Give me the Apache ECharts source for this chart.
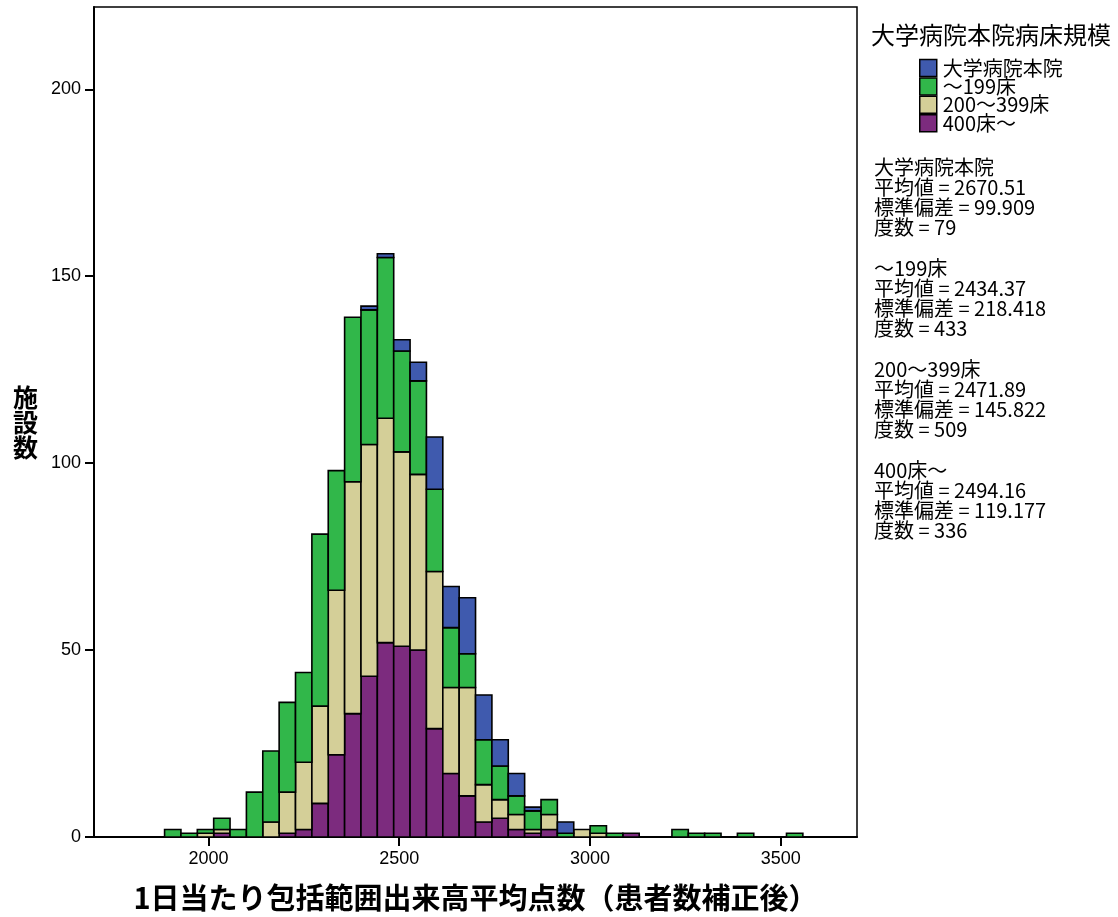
<!DOCTYPE html>
<html>
<head>
<meta charset="utf-8">
<script src="https://cdn.jsdelivr.net/npm/echarts@6/dist/echarts.min.js"></script>
<style>
  html, body { margin: 0; padding: 0; background: #fff; }
  #chart { width: 1118px; height: 917px; }
</style>
</head>
<body>
<div id="chart"></div>
<script>
// histogram bins (SPSS auto bins)
var binStart = 1885;
var binWidth = 42.9;

// counts per bin, stacked bottom -> top: 400床〜, 200〜399床, 〜199床, 大学病院本院
var bed400 = [0,0,0,1,0,0,0,1,2,9,22,33,43,52,51,50,29,17,11,4,5,2,1,2,0,0,0,0,1,0,0,0,0,0,0,0,0,0,0];
var bed200 = [0,0,1,1,0,0,4,11,18,26,44,62,62,60,52,47,42,23,29,10,5,4,1,4,0,2,1,0,0,0,0,0,0,0,0,0,0,0,0];
var bed199 = [2,1,1,3,2,12,19,24,24,46,32,44,36,43,27,25,22,16,9,12,9,5,5,4,1,0,2,1,0,0,0,2,1,1,0,1,0,0,1];
var univ   = [0,0,0,0,0,0,0,0,0,0,0,0,1,1,3,5,14,11,15,12,7,6,1,0,3,0,0,0,0,0,0,0,0,0,0,0,0,0,0];

var seriesNames = ['400床〜', '200〜399床', '〜199床', '大学病院本院'];
var seriesColors = ['#7c2b7e', '#d4cf98', '#31b74a', '#3f5aae'];
var legendOrder = ['大学病院本院', '〜199床', '200〜399床', '400床〜'];

var xTicks = [2000, 2500, 3000, 3500];
var yTicks = [0, 50, 100, 150, 200];

// summary statistics shown at the right
var statNames = ['大学病院本院', '〜199床', '200〜399床', '400床〜'];
var statMean = ['2670.51', '2434.37', '2471.89', '2494.16'];
var statSd = ['99.909', '218.418', '145.822', '119.177'];
var statN = ['79', '433', '509', '336'];

var chart = echarts.init(document.getElementById('chart'));

var layers = [bed400, bed200, bed199, univ];
var base = bed400.map(function () { return 0; });
var series = [];
layers.forEach(function (arr, k) {
  var data = [];
  arr.forEach(function (v, i) {
    if (v > 0) {
      var x0 = binStart + i * binWidth;
      data.push([x0, x0 + binWidth, base[i], base[i] + v]);
    }
    base[i] += v;
  });
  series.push({
    name: seriesNames[k],
    type: 'custom',
    itemStyle: { color: seriesColors[k] },
    encode: { x: [0, 1], y: [2, 3] },
    data: data,
    renderItem: function (params, api) {
      var p0 = api.coord([api.value(0), api.value(2)]);
      var p1 = api.coord([api.value(1), api.value(3)]);
      return {
        type: 'rect',
        shape: { x: p0[0], y: p1[1], width: p1[0] - p0[0], height: p0[1] - p1[1] },
        style: { fill: api.visual('color'), stroke: '#000', lineWidth: 1.6 }
      };
    }
  });
});

var statLines = [];
statNames.forEach(function (n, i) {
  if (i > 0) statLines.push('');
  statLines.push(n);
  statLines.push('平均値 = ' + statMean[i]);
  statLines.push('標準偏差 = ' + statSd[i]);
  statLines.push('度数 = ' + statN[i]);
});

var option = {
  animation: false,
  backgroundColor: '#fff',
  textStyle: { fontFamily: 'Noto Sans CJK JP' },
  title: {
    text: '大学病院本院病床規模',
    left: 866, top: 18,
    textStyle: { fontSize: 24, fontWeight: 'normal', color: '#000', fontFamily: 'Noto Sans CJK JP' }
  },
  legend: {
    data: legendOrder,
    orient: 'vertical',
    left: 914, top: 53,
    icon: 'rect',
    itemWidth: 17, itemHeight: 17,
    itemGap: -1.6,
    selectedMode: false,
    itemStyle: { borderColor: '#000', borderWidth: 1.5 },
    textStyle: { fontSize: 20, color: '#000', lineHeight: 17, padding: [0, 0, 0, 1] }
  },
  grid: {
    left: 94, right: 261, top: 7, bottom: 80,
    outerBoundsMode: 'none', containLabel: false,
    show: true, borderColor: '#000', borderWidth: 1.5
  },
  xAxis: {
    type: 'value',
    min: 1700, max: 3700,
    name: '1日当たり包括範囲出来高平均点数（患者数補正後）',
    nameLocation: 'middle',
    nameGap: 46,
    nameTextStyle: { fontSize: 29, fontWeight: 'bold', color: '#000' },
    splitLine: { show: false },
    axisLine: { lineStyle: { color: '#000', width: 2 } },
    axisTick: { show: true, length: 9, lineStyle: { color: '#000', width: 2 }, customValues: xTicks },
    axisLabel: {
      color: '#000', fontSize: 18, fontFamily: 'Liberation Sans', margin: 13, customValues: xTicks,
      formatter: function (v) { return String(v); }
    }
  },
  yAxis: {
    type: 'value',
    min: 0, max: 222,
    name: '施\n設\n数',
    nameLocation: 'middle',
    nameRotate: 0,
    nameGap: 56,
    nameTextStyle: { fontSize: 25, fontWeight: 'bold', color: '#000', lineHeight: 25 },
    splitLine: { show: false },
    axisLine: { show: true, lineStyle: { color: '#000', width: 2 } },
    axisTick: { show: true, length: 9, lineStyle: { color: '#000', width: 2 }, customValues: yTicks },
    axisLabel: {
      color: '#000', fontSize: 18, fontFamily: 'Liberation Sans', margin: 13, customValues: yTicks,
      formatter: function (v) { return String(v); }
    }
  },
  graphic: [{
    type: 'text',
    left: 874, top: 157,
    style: {
      text: statLines.join('\n'),
      fontSize: 20,
      lineHeight: 20.2,
      fill: '#000',
      fontFamily: 'Noto Sans CJK JP'
    }
  }],
  series: series
};

chart.setOption(option);
</script>
</body>
</html>
